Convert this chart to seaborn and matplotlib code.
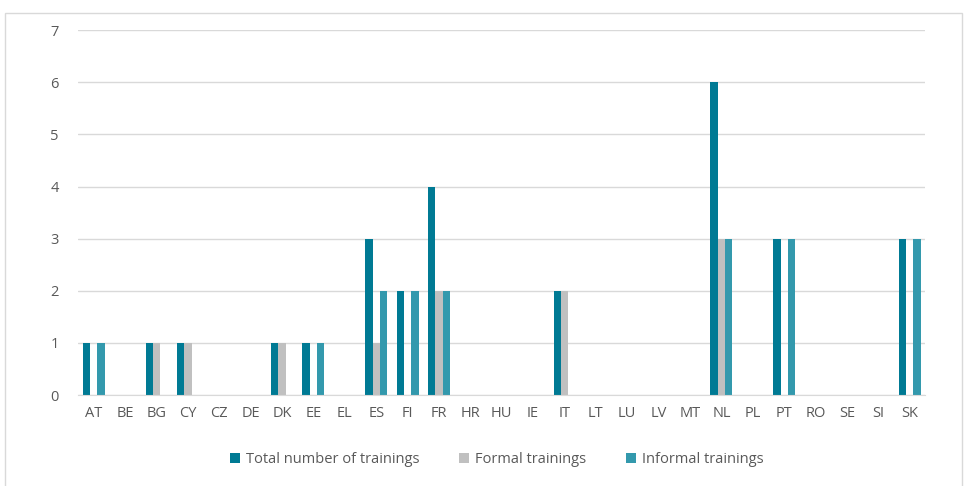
import matplotlib
matplotlib.use("Agg")
import matplotlib.pyplot as plt
import pandas as pd
import seaborn as sns
from matplotlib.patches import Rectangle

countries = ["AT", "BE", "BG", "CY", "CZ", "DE", "DK", "EE", "EL", "ES", "FI", "FR", "HR", "HU",
             "IE", "IT", "LT", "LU", "LV", "MT", "NL", "PL", "PT", "RO", "SE", "SI", "SK"]
total = [1, 0, 1, 1, 0, 0, 1, 1, 0, 3, 2, 4, 0, 0, 0, 2, 0, 0, 0, 0, 6, 0, 3, 0, 0, 0, 3]
formal = [0, 0, 1, 1, 0, 0, 1, 0, 0, 1, 0, 2, 0, 0, 0, 2, 0, 0, 0, 0, 3, 0, 0, 0, 0, 0, 0]
informal = [1, 0, 0, 0, 0, 0, 0, 1, 0, 2, 2, 2, 0, 0, 0, 0, 0, 0, 0, 0, 3, 0, 3, 0, 0, 0, 3]
series = ["Total number of trainings", "Formal trainings", "Informal trainings"]
colors = ["#007A94", "#C0C0C0", "#3399AD"]

df = pd.DataFrame({"country": countries, series[0]: total, series[1]: formal, series[2]: informal})
long = df.melt(id_vars="country", var_name="type", value_name="count")

sns.set_style("white")
plt.rcParams["font.family"] = ["Open Sans", "DejaVu Sans"]

fig = plt.figure(figsize=(9.64, 4.86), dpi=100)
ax = fig.add_axes([0.081, 0.187, 0.879, 0.751])

sns.barplot(data=long, x="country", y="count", hue="type", hue_order=series,
            palette=colors, width=0.7, ax=ax, saturation=1, linewidth=0)

ax.set_ylim(0, 7)
ax.set_yticks(range(0, 8))
ax.set_xlim(-0.5, len(countries) - 0.5)
ax.yaxis.grid(True, color="#D9D9D9", lw=1)
ax.set_axisbelow(True)
for side in ["top", "right", "left"]:
    ax.spines[side].set_visible(False)
ax.spines["bottom"].set_color("#D9D9D9")
ax.tick_params(axis="both", length=0, labelsize=10.5, colors="#595959", pad=8)
ax.tick_params(axis="y", pad=14)
ax.set_xlabel("")
ax.set_ylabel("")

ax.legend(loc="upper center", bbox_to_anchor=(0.494, -0.12), ncol=3, frameon=False,
          handlelength=0.7, handleheight=0.7, handletextpad=0.4, columnspacing=2.7,
          labelcolor="#595959", fontsize=10.5)

fig.patches.append(Rectangle((0.005, -0.01), 0.993, 0.984, transform=fig.transFigure,
                             fill=False, edgecolor="#D9D9D9", lw=1))

fig.savefig("out.png", dpi=100)
